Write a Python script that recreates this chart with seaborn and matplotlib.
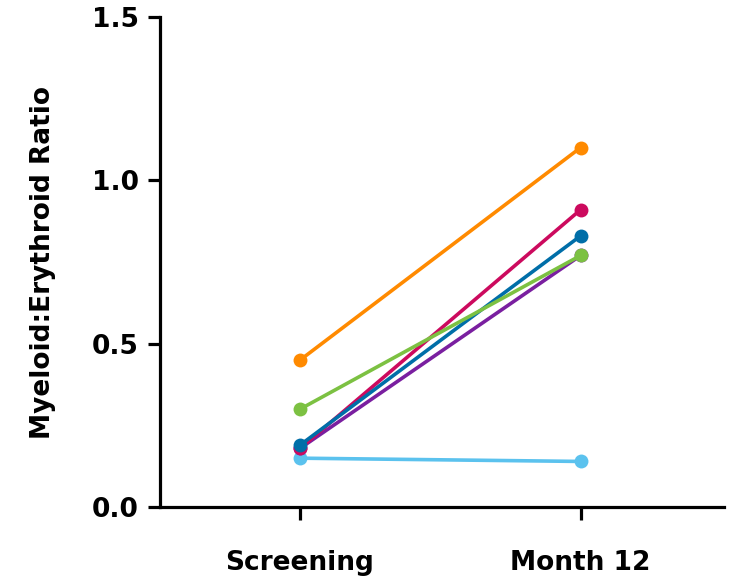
import matplotlib
matplotlib.use("Agg")
import matplotlib.pyplot as plt
import seaborn as sns
import pandas as pd

timepoints = ["Screening", "Month 12"]
subjects = ["S1", "S2", "S3", "S4", "S5", "S6"]
screening = [0.15, 0.18, 0.45, 0.18, 0.19, 0.30]
month12 = [0.14, 0.77, 1.10, 0.91, 0.83, 0.77]
colors = ["#5BC2EE", "#7A1FA0", "#FF8A00", "#CC0A5E", "#006EA8", "#7CC142"]
yticks = [0.0, 0.5, 1.0, 1.5]
ylabel = "Myeloid:Erythroid Ratio"

rows = []
for s, a, b in zip(subjects, screening, month12):
    rows.append({"subject": s, "t": 0, "value": a})
    rows.append({"subject": s, "t": 1, "value": b})
df = pd.DataFrame(rows)

sns.set_style("ticks")
plt.rcParams["font.family"] = ["DejaVu Sans"]
plt.rcParams["text.color"] = "black"
plt.rcParams["axes.labelcolor"] = "black"
plt.rcParams["xtick.color"] = "black"
plt.rcParams["ytick.color"] = "black"

fig = plt.figure(figsize=(7.43, 5.81), dpi=100)
ax = fig.add_axes([0.215, 0.127, 0.759, 0.844])

sns.lineplot(data=df, x="t", y="value", hue="subject", palette=colors,
             marker="o", markersize=10, markeredgewidth=0, linewidth=2.6,
             legend=False, ax=ax, sort=False)

ax.set_xlim(-0.5, 1.51)
ax.set_ylim(0, 1.5)
ax.set_xticks([0, 1])
ax.set_xticklabels(timepoints)
ax.set_yticks(yticks)
ax.set_yticklabels([f"{v:.1f}" for v in yticks])
ax.set_xlabel("")
ax.set_ylabel(ylabel, fontsize=19, fontweight="bold", labelpad=26, color="black")

for lab in ax.get_xticklabels() + ax.get_yticklabels():
    lab.set_fontsize(19)
    lab.set_fontweight("bold")
    lab.set_color("black")

for sp in ["top", "right"]:
    ax.spines[sp].set_visible(False)
for sp in ["left", "bottom"]:
    ax.spines[sp].set_linewidth(2.3)
    ax.spines[sp].set_color("black")
ax.tick_params(axis="both", width=2.3, length=9, color="black")
ax.tick_params(axis="x", pad=22)
ax.tick_params(axis="y", pad=6)

fig.savefig("out.png", dpi=100)
